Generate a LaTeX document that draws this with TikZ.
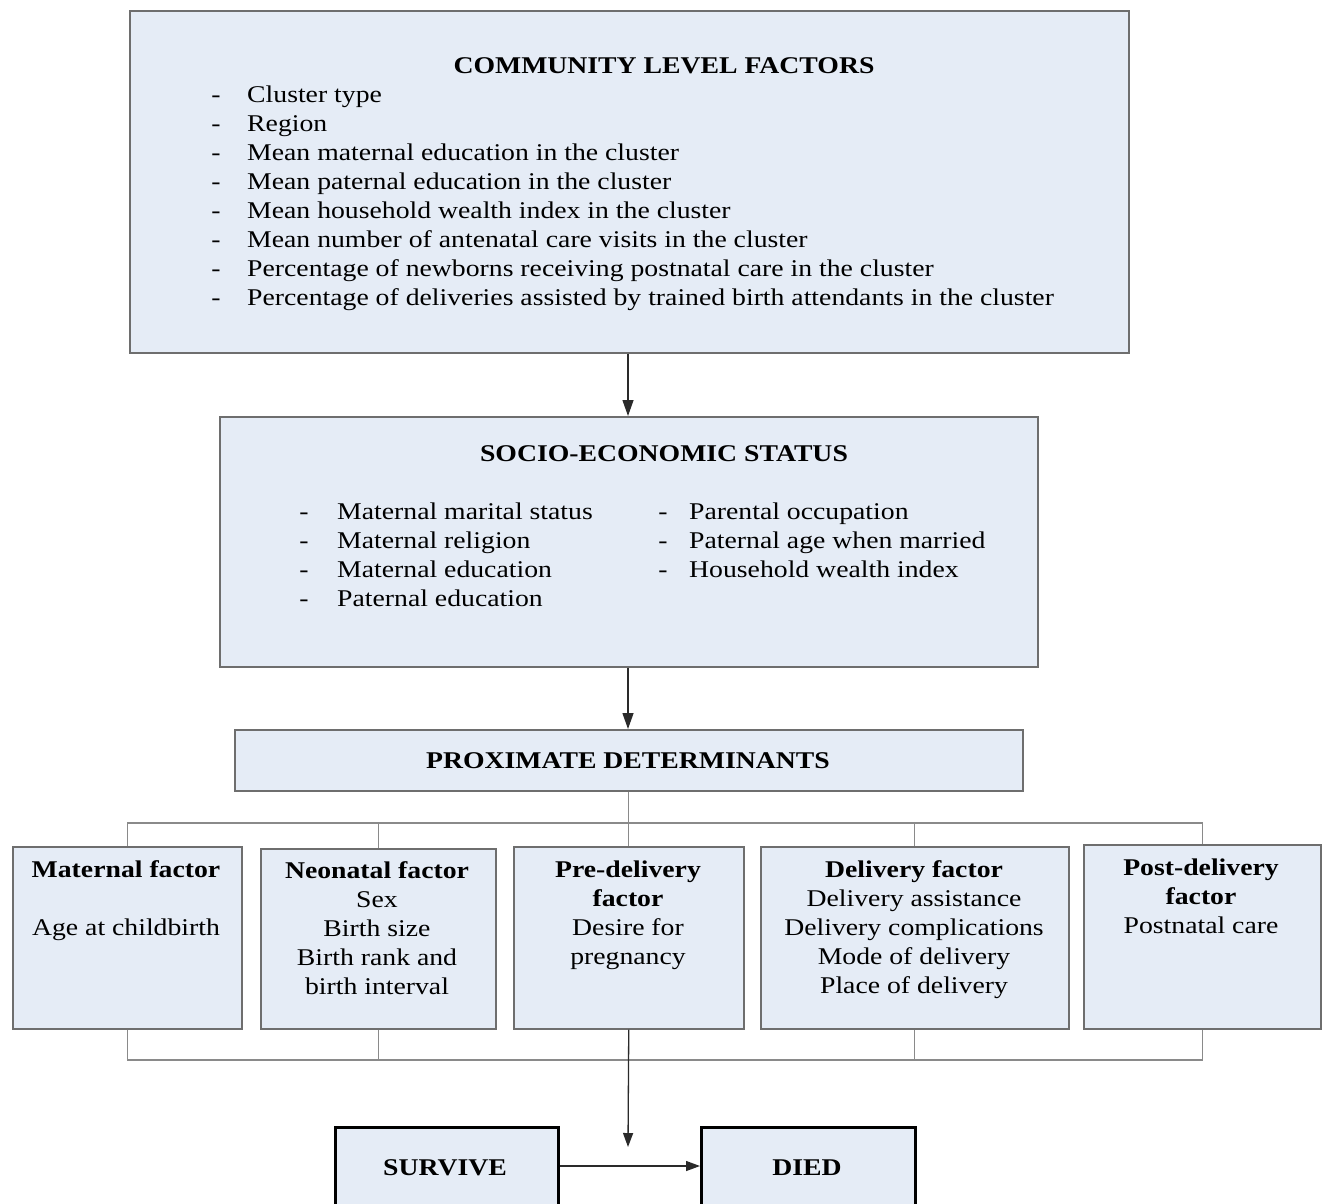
\documentclass[tikz,border=0pt]{standalone}
\usepackage{fontspec}
\setmainfont{Liberation Serif}[FakeStretch=1.155]
\usetikzlibrary{arrows.meta}
\definecolor{boxfill}{HTML}{E5ECF6}
\definecolor{boxline}{HTML}{6E6E6E}
\definecolor{busline}{HTML}{8A8A8A}
\definecolor{arrline}{HTML}{2A2A2A}
\tikzset{
  box/.style={draw=boxline, fill=boxfill, line width=1.5pt, anchor=north west, inner sep=0pt},
  endbox/.style={draw=black, fill=boxfill, line width=3pt, anchor=north west, inner sep=0pt},
  txt/.style={inner sep=0pt, font=\fontsize{24}{29}\selectfont},
  ttl/.style={inner sep=0pt, font=\fontsize{24}{29}\selectfont\bfseries},
  bus/.style={draw=busline, line width=1.3pt},
  arr/.style={draw=arrline, line width=1.3pt, -{Triangle[length=16pt,width=11pt]}},
  arrsmall/.style={draw=arrline, line width=1.3pt, -{Triangle[length=14pt,width=10pt]}}
}
\begin{document}
\begin{tikzpicture}[x=1pt,y=-1pt]
\useasboundingbox (0,0) rectangle (1325,1203);
\clip (0,0) rectangle (1325,1203);
% Community level
\node[box, minimum width=999pt, minimum height=342pt] (clf) at (129,10) {};
\node[ttl, anchor=base] (clft) at (664,73) {COMMUNITY LEVEL FACTORS};
\foreach \t [count=\i] in {Cluster type, Region, Mean maternal education in the cluster, Mean paternal education in the cluster, Mean household wealth index in the cluster, Mean number of antenatal care visits in the cluster, Percentage of newborns receiving postnatal care in the cluster, Percentage of deliveries assisted by trained birth attendants in the cluster}{
  \node[txt, anchor=base] (clfd\i) at (216,{94+29*(\i-1)+8}) {-};
  \node[txt, anchor=base west] (clfi\i) at (247,{94+29*(\i-1)+8}) {\t};
}
% SES
\node[box, minimum width=818pt, minimum height=250pt] (ses) at (219,416) {};
\node[ttl, anchor=base] (sest) at (664,461) {SOCIO-ECONOMIC STATUS};
\foreach \t [count=\i] in {Maternal marital status, Maternal religion, Maternal education, Paternal education}{
  \node[txt, anchor=base] (sesld\i) at (304,{511+29.3*(\i-1)+8}) {-};
  \node[txt, anchor=base west] (sesl\i) at (337,{511+29.3*(\i-1)+8}) {\t};
}
\foreach \t [count=\i] in {Parental occupation, Paternal age when married, Household wealth index}{
  \node[txt, anchor=base] (sesrd\i) at (663,{511+29.3*(\i-1)+8}) {-};
  \node[txt, anchor=base west] (sesr\i) at (689,{511+29.3*(\i-1)+8}) {\t};
}
% Proximate
\node[box, minimum width=788pt, minimum height=61pt] (prox) at (234,729) {};
\node[ttl, anchor=base] (proxt) at (628,768) {PROXIMATE DETERMINANTS};
% Factor boxes
\node[box, minimum width=229pt, minimum height=182pt] (mat) at (12,846) {};
\node[box, minimum width=235pt, minimum height=180pt] (neo) at (260,848) {};
\node[box, minimum width=230pt, minimum height=182pt] (pre) at (513,846) {};
\node[box, minimum width=308pt, minimum height=182pt] (del) at (760,846) {};
\node[box, minimum width=237pt, minimum height=184pt] (post) at (1083,844) {};
% texts
\node[ttl, anchor=base] (matt) at (126,877) {Maternal factor};
\node[txt, anchor=base] (mat1) at (126,935) {Age at childbirth};
\node[ttl, anchor=base] (neot) at (377,878) {Neonatal factor};
\node[txt, anchor=base] (neo1) at (377,907) {Sex};
\node[txt, anchor=base] (neo2) at (377,936) {Birth size};
\node[txt, anchor=base] (neo3) at (377,965) {Birth rank and};
\node[txt, anchor=base] (neo4) at (377,994) {birth interval};
\node[ttl, anchor=base] (pret1) at (628,877) {Pre-delivery};
\node[ttl, anchor=base] (pret2) at (628,906) {factor};
\node[txt, anchor=base] (pre1) at (628,935) {Desire for};
\node[txt, anchor=base] (pre2) at (628,964) {pregnancy};
\node[ttl, anchor=base] (delt) at (914,877) {Delivery factor};
\node[txt, anchor=base] (del1) at (914,906) {Delivery assistance};
\node[txt, anchor=base] (del2) at (914,935) {Delivery complications};
\node[txt, anchor=base] (del3) at (914,964) {Mode of delivery};
\node[txt, anchor=base] (del4) at (914,993) {Place of delivery};
\node[ttl, anchor=base] (postt1) at (1201,875) {Post-delivery};
\node[ttl, anchor=base] (postt2) at (1201,904) {factor};
\node[txt, anchor=base] (post1) at (1201,933) {Postnatal care};
% End boxes
\node[endbox, minimum width=223pt, minimum height=120pt] (surv) at (334,1126) {};
\node[ttl, anchor=base] (survt) at (445,1175) {SURVIVE};
\node[endbox, minimum width=214pt, minimum height=120pt] (died) at (700,1126) {};
\node[ttl, anchor=base] (diedt) at (807,1175) {DIED};
% arrows
\draw[arr] (clf.south -| 628,0) -- (ses.north -| 628,0);
\draw[arr] (ses.south -| 628,0) -- (prox.north -| 628,0);
% top bus
\coordinate (bustop) at (628,823);
\draw[bus] (prox.south -| pre.north) -- (pre.north);
\draw[bus] (mat.north) |- (bustop) -| (post.north);
\draw[bus] (neo.north) -- (neo.north |- bustop);
\draw[bus] (del.north) -- (del.north |- bustop);
% bottom bus
\coordinate (busbot) at (628,1060);
\draw[bus] (mat.south) |- (busbot) -| (post.south);
\draw[bus] (neo.south) -- (neo.south |- busbot);
\draw[bus] (del.south) -- (del.south |- busbot);
\coordinate (outend) at (628,1147);
\draw[arrsmall] (pre.south) -- (outend);
\draw[arrsmall] (surv.east |- 0,1166) -- (died.west |- 0,1166);
\end{tikzpicture}
\end{document}
